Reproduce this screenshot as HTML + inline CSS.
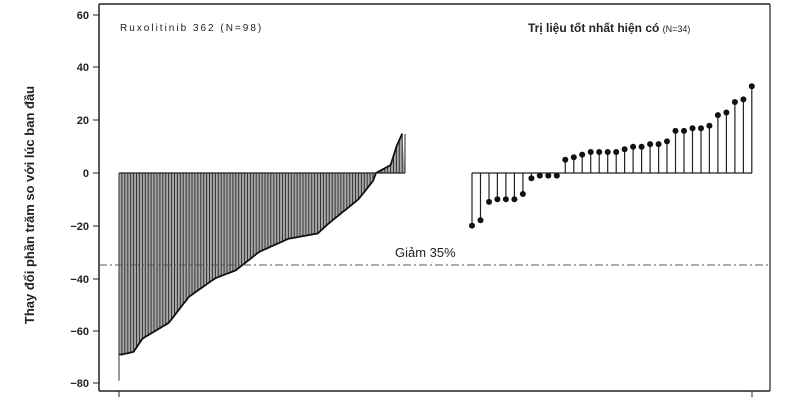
<!DOCTYPE html>
<html><head><meta charset="utf-8"><style>
html,body{margin:0;padding:0;background:#fff;width:800px;height:400px;overflow:hidden}
svg{display:block}
text{font-family:"Liberation Sans",sans-serif;fill:#222}
</style></head><body>
<svg id="s" width="800" height="400" xmlns="http://www.w3.org/2000/svg">
<line x1="99" y1="4" x2="770" y2="4" stroke="#222" stroke-width="1.5"/>
<line x1="770" y1="4" x2="770" y2="391" stroke="#222" stroke-width="1.2"/>
<line x1="99" y1="4" x2="99" y2="391" stroke="#222" stroke-width="1.5"/>
<line x1="99" y1="391" x2="770" y2="391" stroke="#222" stroke-width="1.5"/>
<line x1="119" y1="391" x2="119" y2="397" stroke="#222"/>
<line x1="752" y1="391" x2="752" y2="397" stroke="#222"/>
<g font-size="11" font-weight="bold" text-anchor="end">
<text x="89" y="19">60</text><text x="89" y="71">40</text><text x="89" y="124">20</text>
<text x="89" y="177">0</text><text x="89" y="230">−20</text><text x="89" y="283">−40</text>
<text x="89" y="335">−60</text><text x="89" y="387">−80</text>
</g>
<g stroke="#222"><line x1="93" y1="15" x2="99" y2="15"/><line x1="93" y1="67" x2="99" y2="67"/><line x1="93" y1="120" x2="99" y2="120"/><line x1="93" y1="173" x2="99" y2="173"/><line x1="93" y1="226" x2="99" y2="226"/><line x1="93" y1="279" x2="99" y2="279"/><line x1="93" y1="331" x2="99" y2="331"/><line x1="93" y1="383" x2="99" y2="383"/></g>
<text transform="translate(34,205) rotate(-90)" font-size="13" font-weight="bold" text-anchor="middle">Thay đổi phần trăm so với lúc ban đầu</text>
<text x="120" y="31" font-size="10" letter-spacing="2" fill="#444">Ruxolitinib 362 (N=98)</text>
<text x="528" y="32" font-size="12" font-weight="bold">Trị liệu tốt nhất hiện có <tspan font-size="9" font-weight="normal">(N=34)</tspan></text>
<g id="g"></g>
<line x1="99" y1="265" x2="770" y2="265" stroke="#555" stroke-dasharray="8,3,2,3"/>
<text x="395" y="257" font-size="13">Giảm 35%</text>
</svg>
<script>
var g=document.getElementById('g'),h='';
function Y(v){return 173-v*2.63;}
var kp=[[0,-79],[1,-69],[5,-68],[8,-63],[17,-57],[24,-47],[33,-40],[40,-37],[48,-30],[58,-25],[68,-23],[72,-19],[82,-10],[87,-3],[88,0],[93,3],[95,10],[97,15]];
function interp(i){for(var k=0;k<kp.length-1;k++){if(i>=kp[k][0]&&i<=kp[k+1][0]){var t=(i-kp[k][0])/(kp[k+1][0]-kp[k][0]);return kp[k][1]+t*(kp[k+1][1]-kp[k][1]);}}return 15;}
var pts=[],lines='';
for(var i=0;i<98;i++){var x=119+i*2.92,v=interp(i),y=Y(v);if(i==0)y=Y(-69);pts.push(x.toFixed(1)+','+y.toFixed(1));
lines+='<line x1="'+x.toFixed(1)+'" y1="173" x2="'+x.toFixed(1)+'" y2="'+Y(v).toFixed(1)+'" stroke="#333" stroke-width="1"/>';}
h+='<polygon points="119,173 '+pts.join(' ')+' 405,173" fill="#a8a8a8"/>';
h+=lines;
h+='<polyline points="'+pts.join(' ')+'" fill="none" stroke="#111" stroke-width="1.8"/>';
h+='<line x1="119" y1="173" x2="405" y2="173" stroke="#222" stroke-width="1.3"/>';
h+='<line x1="405" y1="134" x2="405" y2="173" stroke="#222"/>';
var r=[-20,-18,-11,-10,-10,-10,-8,-2,-1,-1,-1,5,6,7,8,8,8,8,9,10,10,11,11,12,16,16,17,17,18,22,23,27,28,33];
h+='<line x1="472" y1="173" x2="752" y2="173" stroke="#222" stroke-width="1.3"/>';
for(var j=0;j<34;j++){var x=472+j*8.48,y=Y(r[j]);
h+='<line x1="'+x.toFixed(1)+'" y1="173" x2="'+x.toFixed(1)+'" y2="'+y.toFixed(1)+'" stroke="#222" stroke-width="1.2"/><circle cx="'+x.toFixed(1)+'" cy="'+y.toFixed(1)+'" r="3" fill="#111"/>';}
g.innerHTML=h;
</script>
</body></html>
